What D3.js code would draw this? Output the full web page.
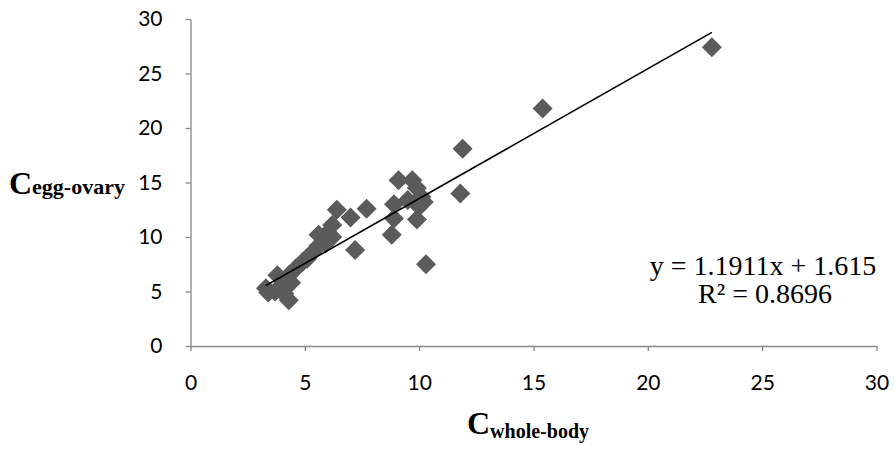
<!DOCTYPE html>
<html>
<head>
<meta charset="utf-8">
<script src="https://cdn.jsdelivr.net/npm/d3@7"></script>
<style>
  html, body { margin: 0; padding: 0; background: #fff; }
  svg { display: block; }
</style>
</head>
<body>
<svg id="chart" width="894" height="449"></svg>
<script>
// Whole-body concentration (x) vs egg-ovary concentration (y)
const wholeBody = [3.3, 3.4, 3.7, 3.8, 4.0, 4.1, 4.3, 4.4, 4.3, 4.6, 4.9, 5.1, 5.3, 5.6, 5.6, 5.9, 6.2, 6.2, 6.0, 6.4,
                   7.0, 7.2, 7.7, 8.8, 8.9, 8.9, 9.1, 9.5, 9.7, 9.9, 9.9, 10.0, 10.1, 10.2, 10.3, 11.8, 11.9, 15.4, 22.8];
const eggOvary  = [5.3, 4.9, 5.0, 6.5, 5.3, 4.8, 4.2, 5.8, 6.5, 7.1, 7.7, 8.0, 8.5, 9.2, 10.2, 9.4, 10.0, 11.1, 10.4, 12.5,
                   11.8, 8.8, 12.6, 10.2, 11.7, 13.0, 15.2, 13.4, 15.2, 14.5, 11.6, 12.8, 13.7, 13.2, 7.5, 14.0, 18.1, 21.8, 27.4];
const xTicks = [0, 5, 10, 15, 20, 25, 30];
const yTicks = [0, 5, 10, 15, 20, 25, 30];
const slope = 1.1911, intercept = 1.615, rSquared = 0.8696;

const svg = d3.select("#chart");
const x = d3.scaleLinear().domain([0, 30]).range([190.5, 876.5]);
const y = d3.scaleLinear().domain([0, 30]).range([346, 19]);
const axisColor = "#868686";
const tickFont = "Lato, 'Open Sans', sans-serif";

// X axis
const gx = svg.append("g").attr("transform", `translate(0,${y(0)})`)
  .call(d3.axisBottom(x).tickValues(xTicks).tickSize(5).tickSizeOuter(0).tickPadding(24));
// Y axis
const gy = svg.append("g").attr("transform", `translate(${x(0)},0)`)
  .call(d3.axisLeft(y).tickValues(yTicks).tickSize(5).tickSizeOuter(0).tickPadding(23));

[gx, gy].forEach(g => {
  g.select(".domain").attr("stroke", axisColor).attr("stroke-width", 1.3);
  g.selectAll(".tick line").attr("stroke", axisColor).attr("stroke-width", 1.3);
  g.selectAll(".tick text").attr("fill", "#000").style("font-family", tickFont).style("font-size", "21px");
});

// Scatter points (diamonds)
const diamond = d3.symbol().type(d3.symbolSquare).size(200);
svg.append("g").selectAll("path")
  .data(wholeBody.map((v, i) => [v, eggOvary[i]]))
  .join("path")
  .attr("d", diamond)
  .attr("transform", d => `translate(${x(d[0])},${y(d[1])}) rotate(45)`)
  .attr("fill", "#5b5b5b");

// Linear trend line over the data range
const xMin = d3.min(wholeBody), xMax = d3.max(wholeBody);
svg.append("line")
  .attr("x1", x(xMin)).attr("y1", y(slope * xMin + intercept))
  .attr("x2", x(xMax)).attr("y2", y(slope * xMax + intercept))
  .attr("stroke", "#000").attr("stroke-width", 1.6);

// Regression equation
const serif = "'Liberation Serif', 'Times New Roman', serif";
const eq = svg.append("text").attr("text-anchor", "middle")
  .style("font-family", serif).style("font-size", "28px").attr("fill", "#000");
eq.append("tspan").attr("x", 763).attr("y", 275).text(`y = ${slope}x + ${intercept}`);
eq.append("tspan").attr("x", 765).attr("y", 303).text(`R² = ${rSquared}`);

// Axis titles
function title(xPos, yPos, sub, dy, subSize) {
  const t = svg.append("text").attr("x", xPos).attr("y", yPos)
    .style("font-family", serif).style("font-weight", "bold").attr("fill", "#000");
  t.append("tspan").style("font-size", "32px").text("C");
  t.append("tspan").attr("dy", dy).style("font-size", subSize + "px").text(sub);
}
title(467, 434, "whole-body", 4, 20);
title(9, 194, "egg-ovary", 0, 22);
</script>
</body>
</html>
